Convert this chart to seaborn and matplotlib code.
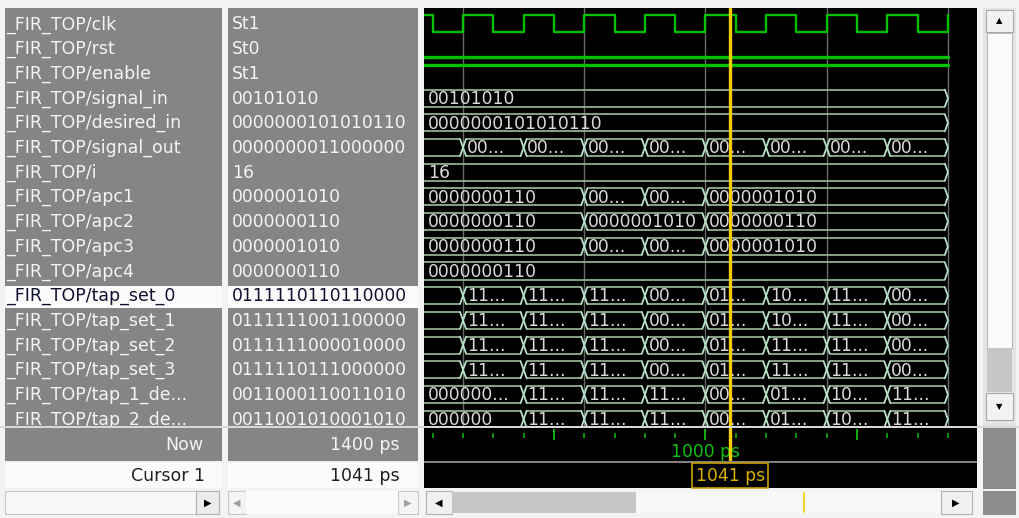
import matplotlib
matplotlib.use("Agg")
import matplotlib.pyplot as plt
from matplotlib.patches import Rectangle
import seaborn as sns
import pandas as pd

# ---------------- data ----------------
signal_names = ["_FIR_TOP/clk", "_FIR_TOP/rst", "_FIR_TOP/enable", "_FIR_TOP/signal_in",
                "_FIR_TOP/desired_in", "_FIR_TOP/signal_out", "_FIR_TOP/i", "_FIR_TOP/apc1",
                "_FIR_TOP/apc2", "_FIR_TOP/apc3", "_FIR_TOP/apc4", "_FIR_TOP/tap_set_0",
                "_FIR_TOP/tap_set_1", "_FIR_TOP/tap_set_2", "_FIR_TOP/tap_set_3",
                "_FIR_TOP/tap_1_de...", "_FIR_TOP/tap_2_de..."]
cursor_values = ["St1", "St0", "St1", "00101010", "0000000101010110", "0000000011000000", "16",
                 "0000001010", "0000000110", "0000001010", "0000000110", "0111110110110000",
                 "0111111001100000", "0111111000010000", "0111110111000000", "0011000110011010",
                 "0011001010001010"]
selected_row = 11

clk_times = [535, 550, 600, 650, 700, 750, 800, 850, 900, 950, 1000, 1050, 1100, 1150,
             1200, 1250, 1300, 1350, 1400]
clk_levels = [1, 0, 1, 0, 1, 0, 1, 0, 1, 0, 1, 0, 1, 0, 1, 0, 1, 0, 1]
rst_times = [535, 1400]
rst_levels = [0, 0]
enable_times = [535, 1400]
enable_levels = [1, 1]

signal_in_times = [535]
signal_in_labels = ["00101010"]
desired_in_times = [535]
desired_in_labels = ["0000000101010110"]
signal_out_times = [535, 600, 700, 800, 900, 1000, 1100, 1200, 1300]
signal_out_labels = ["", "00...", "00...", "00...", "00...", "00...", "00...", "00...", "00..."]
i_times = [535]
i_labels = ["16"]
apc1_times = [535, 800, 900, 1000]
apc1_labels = ["0000000110", "00...", "00...", "0000001010"]
apc2_times = [535, 800, 1000]
apc2_labels = ["0000000110", "0000001010", "0000000110"]
apc3_times = [535, 800, 900, 1000]
apc3_labels = ["0000000110", "00...", "00...", "0000001010"]
apc4_times = [535]
apc4_labels = ["0000000110"]
tap_set_0_times = [535, 600, 700, 800, 900, 1000, 1100, 1200, 1300]
tap_set_0_labels = ["", "11...", "11...", "11...", "00...", "01...", "10...", "11...", "00..."]
tap_set_1_times = [535, 600, 700, 800, 900, 1000, 1100, 1200, 1300]
tap_set_1_labels = ["", "11...", "11...", "11...", "00...", "01...", "10...", "11...", "00..."]
tap_set_2_times = [535, 600, 700, 800, 900, 1000, 1100, 1200, 1300]
tap_set_2_labels = ["", "11...", "11...", "11...", "00...", "01...", "11...", "11...", "00..."]
tap_set_3_times = [535, 600, 700, 800, 900, 1000, 1100, 1200, 1300]
tap_set_3_labels = ["", "11...", "11...", "11...", "00...", "01...", "11...", "11...", "00..."]
tap_1_de_times = [535, 700, 800, 900, 1000, 1100, 1200, 1300]
tap_1_de_labels = ["000000...", "11...", "11...", "11...", "00...", "01...", "10...", "11..."]
tap_2_de_times = [535, 700, 800, 900, 1000, 1100, 1200, 1300]
tap_2_de_labels = ["000000", "11...", "11...", "11...", "00...", "01...", "10...", "11..."]

now_time = 1400
cursor_time = 1041
view_start, view_end = 535.6, 1448.0
grid_times = [600, 800, 1000, 1200, 1400]
minor_tick_times = [550, 600, 650, 700, 800, 850, 900, 950, 1050, 1100, 1150, 1200,
                    1300, 1350, 1400]
major_tick_times = [750, 1000, 1250]
tick_label_times = [1000]
tick_labels = ["1000 ps"]
now_label, now_value = "Now", "1400 ps"
cursor_label, cursor_value = "Cursor 1", "1041 ps"

# ---------------- style ----------------
sns.set_style("white")
plt.rcParams['font.family'] = ['DejaVu Sans']
W, H = 1020, 518
FS_NAME = 12.5
FS_VAL = 12.3
FS_WAVE = 12.3
FS_BOT = 12.5
GRAY = '#858585'
BUS = '#8fb08f'
XCOL = '#b8e0c8'
GREEN = '#10c010'
YELLOW = '#f2cc00'

fig = plt.figure(figsize=(W / 100, H / 100), dpi=100)
fig.patch.set_facecolor('#f3f3f3')

chrome = fig.add_axes([0, 0, 1, 1])
chrome.set_xlim(0, W)
chrome.set_ylim(H, 0)
chrome.axis('off')


def rect(x0, y0, x1, y1, fc, ec='none', lw=0, z=1):
    chrome.add_patch(Rectangle((x0, y0), x1 - x0, y1 - y0, facecolor=fc,
                               edgecolor=ec, linewidth=lw, zorder=z))


def px_axes(x0, y0, x1, y1, fc):
    ax = fig.add_axes([x0 / W, 1 - y1 / H, (x1 - x0) / W, (y1 - y0) / H])
    ax.set_facecolor(fc)
    ax.set_xticks([])
    ax.set_yticks([])
    for s in ax.spines.values():
        s.set_visible(False)
    return ax


n = len(signal_names)
row_top, row_bot = -0.648, 16.275

# ---------------- name / value columns ----------------
ax_name = px_axes(5, 8, 222, 426, GRAY)
ax_val = px_axes(228, 8, 418, 426, GRAY)
for ax in (ax_name, ax_val):
    ax.set_xlim(0, 1)
    ax.set_ylim(row_bot, row_top)
    ax.axhspan(selected_row - 0.39, selected_row + 0.5, color='#fbfbfb', lw=0)
for r, (nm, val) in enumerate(zip(signal_names, cursor_values)):
    c = '#101030' if r == selected_row else '#f4f4f4'
    ax_name.text(0.005, r + 0.02, nm, va='center', ha='left', color=c, fontsize=FS_NAME,
                 clip_on=True)
    ax_val.text(0.02, r + 0.02, val, va='center', ha='left', color=c, fontsize=FS_VAL,
                clip_on=True)

# ---------------- waveform area ----------------
ax_w = px_axes(424, 8, 977, 426, 'black')
for g in grid_times:
    ax_w.axvline(g, color='#6a6a6a', lw=1.0, zorder=0)

# single-bit signals through seaborn
HI, LO = -0.36, 0.34
for r, (ts, lv, lw) in enumerate([(clk_times, clk_levels, 1.7),
                                  (rst_times, rst_levels, 2.4),
                                  (enable_times, enable_levels, 2.4)]):
    df = pd.DataFrame({"t": ts, "y": [r + (HI if v else LO) for v in lv]})
    sns.lineplot(data=df, x="t", y="y", ax=ax_w, drawstyle="steps-post",
                 color='#00c000', lw=lw, estimator=None, zorder=3)

bus_rows = [(signal_in_times, signal_in_labels), (desired_in_times, desired_in_labels),
            (signal_out_times, signal_out_labels), (i_times, i_labels),
            (apc1_times, apc1_labels), (apc2_times, apc2_labels),
            (apc3_times, apc3_labels), (apc4_times, apc4_labels),
            (tap_set_0_times, tap_set_0_labels), (tap_set_1_times, tap_set_1_labels),
            (tap_set_2_times, tap_set_2_labels), (tap_set_3_times, tap_set_3_labels),
            (tap_1_de_times, tap_1_de_labels), (tap_2_de_times, tap_2_de_labels)]
h = 0.345
d = 5.0
for k, (times, labels) in enumerate(bus_rows):
    r = k + 3
    bounds = times + [now_time]
    for j, (t0, lab) in enumerate(zip(times, labels)):
        t1 = bounds[j + 1]
        xs = t0 + d if j > 0 else t0
        ax_w.hlines([r - h, r + h], xs, t1 - d, color=BUS, lw=1.3, zorder=2)
        if j > 0:
            ax_w.plot([t0 - d, t0 + d], [r - h, r + h], color=XCOL, lw=1.3, zorder=2)
            ax_w.plot([t0 - d, t0 + d], [r + h, r - h], color=XCOL, lw=1.3, zorder=2)
        if lab:
            ax_w.text(max(t0, view_start) + 6, r + 0.03, lab, va='center', ha='left',
                      color='#dadada', fontsize=FS_WAVE, clip_on=True, zorder=3)
    ax_w.plot([now_time - d, now_time, now_time - d], [r - h, r, r + h],
              color=XCOL, lw=1.3, zorder=2)
ax_w.axvline(cursor_time, color=YELLOW, lw=2.4, zorder=5)
ax_w.set_xlim(view_start, view_end)
ax_w.set_ylim(row_bot, row_top)
ax_w.set_xlabel("")
ax_w.set_ylabel("")
ax_w.set_xticks([])
ax_w.set_yticks([])

# ---------------- timeline rows ----------------
ax_t = px_axes(424, 428, 977, 461, 'black')
ax_t.set_xlim(view_start, view_end)
ax_t.set_ylim(461, 428)
ax_t.vlines(minor_tick_times, 433, 438, color='#10b010', lw=1.2)
ax_t.vlines(major_tick_times, 429, 440, color='#10b010', lw=1.4)
for tt, tl in zip(tick_label_times, tick_labels):
    ax_t.text(tt, 452, tl, ha='center', va='center', color=GREEN, fontsize=FS_WAVE)
ax_t.axvline(cursor_time, color=YELLOW, lw=2.4, zorder=5)

ax_c = px_axes(424, 463, 977, 488, 'black')
ax_c.set_xlim(view_start, view_end)
ax_c.set_ylim(488, 463)
ax_c.text(cursor_time, 475.5, cursor_value, ha='center', va='center', color='#d8b000',
          fontsize=FS_WAVE, bbox=dict(boxstyle='square,pad=0.2', fc='black', ec='#c8a000', lw=1.2))

# ---------------- chrome: bottom-left rows ----------------
rect(5, 428, 222, 461, GRAY)
rect(228, 428, 418, 461, GRAY)
rect(5, 463, 222, 488, '#fbfbfb')
rect(228, 463, 418, 488, '#fbfbfb')
chrome.text(203, 445, now_label, ha='right', va='center', color='#f4f4f4', fontsize=FS_BOT)
chrome.text(400, 445, now_value, ha='right', va='center', color='#f4f4f4', fontsize=FS_BOT)
chrome.text(205, 476, cursor_label, ha='right', va='center', color='#202020', fontsize=FS_BOT)
chrome.text(400, 476, cursor_value, ha='right', va='center', color='#202020', fontsize=FS_BOT)
rect(424, 461, 977, 463, '#808080')
rect(0, 426, 1020, 428, '#d8d8d8')

# horizontal scroll bars
rect(5, 491, 196, 514, '#f7f7f7', ec='#c8c8c8', lw=0.8)
rect(196, 491, 219, 514, '#ececec', ec='#b0b0b0', lw=0.8)
chrome.text(208, 503, "\u25b6", ha='center', va='center', fontsize=7, color='black')
rect(228, 491, 246, 514, '#f4f4f4', ec='#c8c8c8', lw=0.8)
rect(246, 491, 398, 514, '#fbfbfb')
rect(398, 491, 418, 514, '#f4f4f4', ec='#c8c8c8', lw=0.8)
chrome.text(237, 503, "\u25c0", ha='center', va='center', fontsize=7, color='#a0a0a0')
chrome.text(408, 503, "\u25b6", ha='center', va='center', fontsize=7, color='#a0a0a0')
rect(426, 491, 452, 514, '#f0f0f0', ec='#b0b0b0', lw=0.8)
rect(452, 492, 636, 513, '#c6c6c6')
rect(636, 492, 941, 513, '#f8f8f8')
rect(941, 491, 972, 514, '#f0f0f0', ec='#b0b0b0', lw=0.8)
chrome.text(439, 503, "\u25c0", ha='center', va='center', fontsize=7, color='black')
chrome.text(956, 503, "\u25b6", ha='center', va='center', fontsize=7, color='black')
sx = 452 + (941 - 452) * cursor_time / view_end
chrome.plot([sx, sx], [493, 512], color=YELLOW, lw=1.2, zorder=3)

# vertical scroll bar
rect(983, 8, 1016, 426, '#e4e4e4')
rect(986, 10, 1013, 32, '#f2f2f2', ec='#a8a8a8', lw=0.8, z=2)
chrome.text(999.5, 21, "\u25b2", ha='center', va='center', fontsize=6, color='black', zorder=3)
rect(987, 33, 1012, 348, '#fbfbfb', ec='#b8b8b8', lw=0.8, z=2)
rect(987, 348, 1012, 392, '#c6c6c6', z=2)
rect(986, 393, 1013, 420, '#f2f2f2', ec='#a8a8a8', lw=0.8, z=2)
chrome.text(999.5, 407, "\u25bc", ha='center', va='center', fontsize=6, color='black', zorder=3)
rect(983, 428, 1016, 489, '#8c8c8c')
rect(983, 491, 1016, 515, '#8c8c8c')

fig.savefig("out.png", dpi=100, facecolor=fig.get_facecolor())
